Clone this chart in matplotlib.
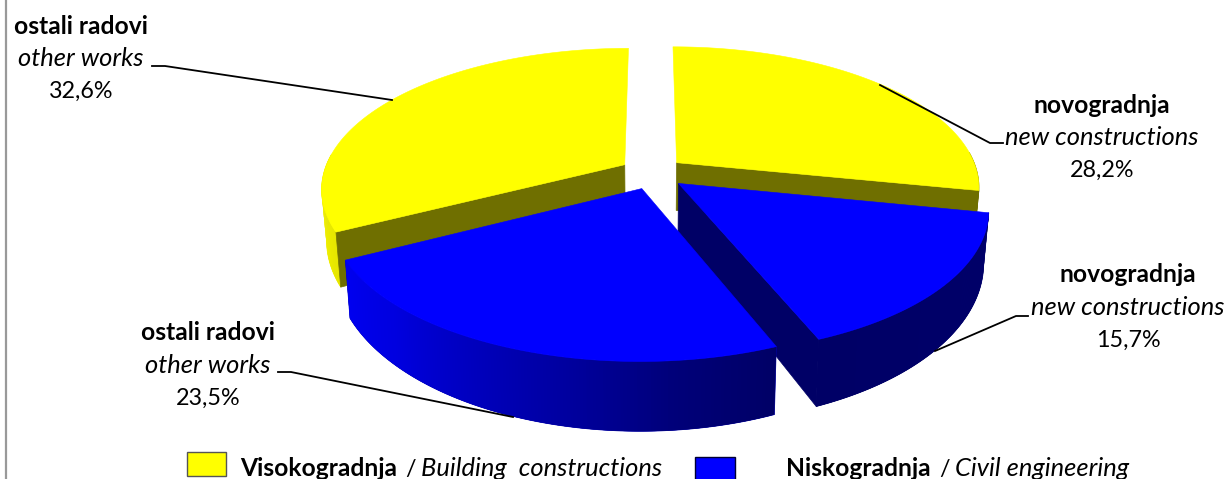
import numpy as np
import matplotlib
matplotlib.use('Agg')
import matplotlib.pyplot as plt
from matplotlib.patches import Polygon, Rectangle
from matplotlib.colors import to_rgb

plt.rcParams['font.family'] = ['Lato', 'DejaVu Sans']

# clockwise from 12 o'clock
names = ['novogradnja', 'novogradnja', 'ostali radovi', 'ostali radovi']
names_en = ['new constructions', 'new constructions', 'other works', 'other works']
shares = [28.2, 15.7, 23.5, 32.6]
share_labels = ['28,2%', '15,7%', '23,5%', '32,6%']
groups = ['Visokogradnja', 'Niskogradnja']
groups_en = ['Building  constructions', 'Civil engineering']

YELLOW = '#ffff00'
BLUE = '#0000ff'
OLIVE = '#6f6f00'
NAVY = '#000066'

BOLD = 17.7
ITALIC = 18.4
PLAIN = 16.8

# fake 3d pie: projection of a flat disc, nearer points get bigger
CX, CY = 651, 175
RX, RY = 302, 139
K = 0.167
DEPTH = 49


def project(u, v):
    s = 1 / (1 + K * v)
    return CX + RX * u * s, CY - RY * v * s, s


def rim(ox, oy, t):
    a = np.radians(t)
    return project(ox + np.sin(a), oy + np.cos(a))


def lower(x, y, s):
    return CX + (x - CX) * 0.985, y + DEPTH * s ** 1.75


def wall_color(stops, f):
    xs = np.linspace(0, 1, len(stops))
    rgb = np.array([to_rgb(c) for c in stops])
    return [np.interp(f, xs, rgb[:, i]) for i in range(3)]


def draw_slice(ax, t0, t1, off, top, stops, cut):
    ox, oy = off
    ts = np.linspace(t0, t1, 160)
    x, y, s = rim(ox, oy, ts)
    xb, yb = lower(x, y, s)

    # outer wall, only the part that faces the viewer
    front = np.cos(np.radians(ts)) < 0.08
    if front.sum() > 1:
        fx, fy, fxb, fyb = x[front], y[front], xb[front], yb[front]
        base = wall_color(stops, 0.5)
        ax.add_patch(Polygon(np.vstack([np.column_stack([fx, fy]),
                                        np.column_stack([fxb, fyb])[::-1]]),
                             fc=base, ec=base, lw=0.5))
        n = len(fx)
        for i in range(n - 1):
            c = wall_color(stops, i / max(n - 2, 1))
            j = min(i + 2, n - 1)
            ax.add_patch(Polygon([(fx[i], fy[i]), (fx[j], fy[j]),
                                  (fxb[j], fyb[j]), (fxb[i], fyb[i])],
                                 fc=c, ec='none'))

    ax0, ay0, as0 = project(ox, oy)
    axb, ayb = lower(ax0, ay0, as0)
    if cut is not None:
        j = 0 if cut == 'start' else -1
        wall = NAVY if top == BLUE else OLIVE
        ax.add_patch(Polygon([(ax0, ay0), (x[j], y[j]), (xb[j], yb[j]), (axb, ayb)],
                             fc=wall, ec=wall, lw=0.5))
    ax.add_patch(Polygon(np.vstack([[ax0, ay0], np.column_stack([x, y])]),
                         fc=top, ec=top, lw=0.4))


fig = plt.figure(figsize=(12.29, 4.79), dpi=100)
ax = fig.add_axes([0, 0, 1, 1])
ax.set_xlim(0, 1229)
ax.set_ylim(479, 0)
ax.axis('off')

edges = np.concatenate([[0], np.cumsum(shares)]) * 3.6

# painter's order: back slices first, left blue slice last
draw_slice(ax, edges[3], edges[4], (-0.088, 0.075), YELLOW, ['#e6e600', '#f2f200', '#d8d820'], 'start')
draw_slice(ax, edges[0], edges[1], (0.086, 0.09), YELLOW, [OLIVE, OLIVE], 'end')
draw_slice(ax, edges[1], edges[2], (0.09, -0.06), BLUE, ['#00006a', NAVY], 'end')
draw_slice(ax, edges[2], edges[3], (-0.03, -0.096), BLUE,
           [NAVY, '#00007a', '#0000a0', '#0000c0', '#0000e0', '#0000f0'], None)

# leader lines
ax.plot([152, 165, 392], [66, 66, 100], color='black', lw=1.3)
ax.plot([278, 291, 513], [372, 372, 417], color='black', lw=1.3)
ax.plot([1003, 990, 880], [143, 143, 85], color='black', lw=1.3)
ax.plot([1028, 1016, 935], [316, 316, 351], color='black', lw=1.3)

# labels
spots = [(1102, 105), (1128, 275), (208, 333), (81, 26)]
for (lx, ly), a, b, c in zip(spots, names, names_en, share_labels):
    ax.text(lx, ly, a, ha='center', va='center', fontsize=BOLD, fontweight='bold')
    ax.text(lx, ly + 32.5, b, ha='center', va='center', fontsize=ITALIC, style='italic')
    ax.text(lx, ly + 65, c, ha='center', va='center', fontsize=PLAIN)

# legend, cut by the bottom of the picture as in the original
ax.add_patch(Rectangle((187, 452), 39, 24, fc=YELLOW, ec='#555555', lw=1))
ax.add_patch(Rectangle((695, 457), 40, 24, fc=BLUE, ec='#000033', lw=1))
ax.text(240, 476, groups[0], ha='left', va='baseline', fontsize=BOLD, fontweight='bold')
ax.text(405, 476, '/', ha='left', va='baseline', fontsize=PLAIN)
ax.text(421, 476, groups_en[0], ha='left', va='baseline', fontsize=ITALIC, style='italic')
ax.text(786, 476, groups[1], ha='left', va='baseline', fontsize=BOLD, fontweight='bold')
ax.text(939, 476, '/', ha='left', va='baseline', fontsize=PLAIN)
ax.text(955, 476, groups_en[1], ha='left', va='baseline', fontsize=ITALIC, style='italic')

# left frame edge
ax.plot([5.5, 5.5], [0, 479], color='#999999', lw=1.6)

fig.savefig('out.png', dpi=100)
